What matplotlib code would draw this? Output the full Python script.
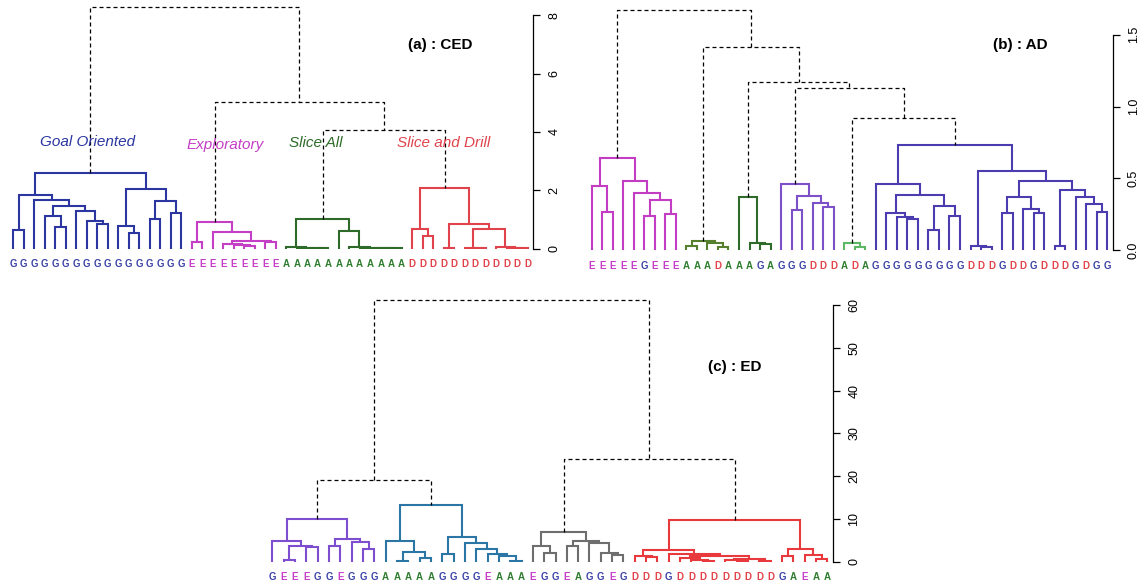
import matplotlib
matplotlib.use("Agg")
import matplotlib.pyplot as plt

plt.rcParams['font.family'] = ['Liberation Sans', 'DejaVu Sans']

W, H = 1147, 588

# leaf = 0, node = [height, left, right]
# ---- (a) : CED
tree_a_goal = [2.6,
               [1.83, [0.64, 0, 0],
                [1.66, 0, [1.46, [1.13, 0, [0.73, 0, 0]],
                           [1.28, 0, [0.95, 0, [0.83, 0, 0]]]]]],
               [2.06, [0.76, 0, [0.54, 0, 0]],
                [1.63, [1.01, 0, 0], [1.22, 0, 0]]]]
tree_a_expl = [0.91, [0.21, 0, 0],
               [0.57, 0, [0.26, [0.16, 0, [0.12, 0, [0.08, 0, 0]]], [0.22, 0, 0]]]]
tree_a_slice = [1.0, [0.04, 0, [0.03, 0, [0.02, 0, [0.02, 0, 0]]]],
                [0.62, 0, [0.04, 0, [0.03, 0, [0.03, 0, [0.02, 0, [0.02, 0, 0]]]]]]]
tree_a_drill = [2.08, [0.66, 0, [0.43, 0, 0]],
                [0.83, [0.03, 0, 0],
                 [0.66, [0.03, 0, [0.02, 0, 0]], [0.04, 0, [0.03, 0, [0.02, 0, 0]]]]]]
top_a = [8.28, 0, [5.03, 1, [4.07, 2, 3]]]
colors_a = ["#2b36a0", "#c43ec6", "#2e6a2a", "#e0434c"]
labels_a = "GGGGGGGGGGGGGGGGG" + "EEEEEEEEE" + "AAAAAAAAAAAA" + "DDDDDDDDDDDD"
names_a = ["Goal Oriented", "Exploratory", "Slice All", "Slice and Drill"]
ticks_a = [0, 2, 4, 6, 8]
ticklabels_a = ["0", "2", "4", "6", "8"]

# ---- (b) : AD
tree_b_e = [0.64, [0.45, 0, [0.27, 0, 0]],
            [0.48, 0, [0.40, 0, [0.35, [0.24, 0, 0], [0.25, 0, 0]]]]]
tree_b_a1 = [0.065, [0.03, 0, 0], [0.05, 0, [0.025, 0, 0]]]
tree_b_a2 = [0.37, 0, [0.05, 0, [0.045, 0, 0]]]
tree_b_p = [0.46, 0, [0.38, [0.28, 0, 0], [0.33, 0, [0.30, 0, 0]]]]
tree_b_lg = [0.05, 0, [0.026, 0, 0]]
tree_b_g = [0.73,
            [0.46, 0, [0.385, [0.26, 0, [0.23, 0, [0.22, 0, 0]]],
                       [0.31, [0.14, 0, 0], [0.24, 0, 0]]]],
            [0.55, [0.03, 0, [0.025, 0, 0]],
             [0.48, [0.37, [0.26, 0, 0], [0.29, 0, [0.26, 0, 0]]],
              [0.42, [0.03, 0, 0], [0.37, 0, [0.32, 0, [0.265, 0, 0]]]]]]]
top_b = [1.67, 0, [1.41, 1, [1.17, 2, [1.13, 3, [0.92, 4, 5]]]]]
colors_b = ["#c23cc4", "#56802e", "#2f6b2b", "#7b50c8", "#5cb865", "#4b3db0"]
labels_b = "EEEEEGEEE" + "AAADAAAGA" + "GGGDDD" + "ADA" + "GGGGGGGGG" + "DDDGDDGDDDGDGG"
ticks_b = [0, 0.5, 1.0, 1.5]
ticklabels_b = ["0.0", "0.5", "1.0", "1.5"]

# ---- (c) : ED
tree_c_p = [9.9, [4.8, 0, [3.6, [0.3, 0, 0], [3.4, 0, 0]]],
            [5.3, [3.6, 0, 0], [4.5, 0, [3.0, 0, 0]]]]
tree_c_b = [13.2, [4.8, 0, [2.3, [0.2, 0, 0], [0.9, 0, 0]]],
            [5.7, [1.9, 0, 0], [4.4, 0, [3.0, 0, [1.8, 0, [1.25, 0, [0.24, 0, 0]]]]]]]
tree_c_gray = [6.9, [3.6, 0, [2.0, 0, 0]],
               [4.8, [3.6, 0, 0], [4.4, 0, [2.0, 0, [1.6, 0, 0]]]]]
tree_c_red = [9.65,
              [2.8, [1.25, 0, [1.15, 0, 0]],
               [1.9, 0, [1.25, [0.75, 0, [0.3, 0, [0.2, 0, 0]]],
                         [0.65, [0.3, 0, [0.15, 0, 0]], [0.25, 0, 0]]]]],
              [2.9, [1.4, 0, 0], [1.65, 0, [0.63, 0, 0]]]]
top_c = [61.2, [19.0, 0, 1], [24.0, 2, 3]]
colors_c = ["#7d4fd0", "#2c76a6", "#6e6e6e", "#e8393c"]
labels_c = "GEEEGGEGGG" + "AAAAAGGGGEAAA" + "EGGEAGGEG" + "DDDGDDDDDDDDDGAEAA"
ticks_c = [0, 10, 20, 30, 40, 50, 60]
ticklabels_c = [str(t) for t in ticks_c]

label_colors = {"G": "#3b43a6", "E": "#c53ec8", "A": "#2f7d2f", "D": "#e2434b"}


def draw_tree(ax, node, start, color):
  if node == 0:
    return start, 0.0, 1
  h, left, right = node
  xl, hl, nl = draw_tree(ax, left, start, color)
  xr, hr, nr = draw_tree(ax, right, start + nl, color)
  ax.plot([xl, xl, xr, xr], [hl, h, h, hr], color=color, lw=1.5,
          solid_joinstyle='miter', solid_capstyle='butt')
  return (xl + xr) / 2, h, nl + nr


def draw_top(ax, node, tops):
  if isinstance(node, int):
    return tops[node]
  h, left, right = node
  xl, hl = draw_top(ax, left, tops)
  xr, hr = draw_top(ax, right, tops)
  ax.plot([xl, xl, xr, xr], [hl, h, h, hr], color='black', lw=0.9,
          linestyle=(0, (3.2, 2.4)))
  return (xl + xr) / 2, h


def make_axes(fig, px_left, px_right, px_base, px_unit, ymax):
  bottom = (H - px_base) / H
  height = ymax * px_unit / H
  ax = fig.add_axes([px_left / W, bottom, (px_right - px_left) / W, height])
  ax.set_xlim(0.5, 50.5)
  ax.set_ylim(0, ymax)
  return ax


def dendro_panel(ax, trees, colors, top, labels, ticks, ticklabels):
  start = 1
  tops = []
  for tree, col in zip(trees, colors):
    x, h, n = draw_tree(ax, tree, start, col)
    tops.append((x, h))
    start += n
  draw_top(ax, top, tops)
  for i, lab in enumerate(labels):
    ax.annotate(lab, (i + 1, 0), xytext=(0, -11), textcoords='offset points',
                ha='center', va='center', fontsize=7, fontweight='bold',
                color=label_colors[lab], annotation_clip=False)
  for s in ['left', 'top', 'bottom']:
    ax.spines[s].set_visible(False)
  ax.spines['right'].set_bounds(ticks[0], ticks[-1])
  ax.spines['right'].set_linewidth(0.9)
  ax.set_xticks([])
  ax.yaxis.tick_right()
  ax.set_yticks(ticks)
  ax.set_yticklabels(ticklabels, rotation=90, va='center', fontsize=9)
  ax.tick_params(axis='y', length=5, width=0.9, pad=6)
  ax.patch.set_visible(False)


fig = plt.figure(figsize=(W / 100, H / 100), dpi=100)

ax_a = make_axes(fig, 8, 533, 248.6, 29.16, 8.5)
dendro_panel(ax_a, [tree_a_goal, tree_a_expl, tree_a_slice, tree_a_drill], colors_a,
             top_a, labels_a, ticks_a, ticklabels_a)

ax_b = make_axes(fig, 586.4, 1112.6, 250.5, 144.0, 1.72)
dendro_panel(ax_b, [tree_b_e, tree_b_a1, tree_b_a2, tree_b_p, tree_b_lg, tree_b_g], colors_b,
             top_b, labels_b, ticks_b, ticklabels_b)

ax_c = make_axes(fig, 266.7, 833, 561.7, 4.278, 62)
dendro_panel(ax_c, [tree_c_p, tree_c_b, tree_c_gray, tree_c_red], colors_c,
             top_c, labels_c, ticks_c, ticklabels_c)

# titles and cluster names
fig.text(440 / W, 1 - 45 / H, "(a) : CED", ha='center', va='center', fontsize=11, fontweight='bold')
fig.text(1020 / W, 1 - 45 / H, "(b) : AD", ha='center', va='center', fontsize=11, fontweight='bold')
fig.text(735 / W, 1 - 367 / H, "(c) : ED", ha='center', va='center', fontsize=11, fontweight='bold')

name_pos = [(88, 142), (225, 145), (316, 143), (444, 143)]
for name, (x, y), col in zip(names_a, name_pos, colors_a):
  fig.text(x / W, 1 - y / H, name, ha='center', va='center', fontsize=11,
           style='italic', color=col)

fig.savefig("out.png", dpi=100)
